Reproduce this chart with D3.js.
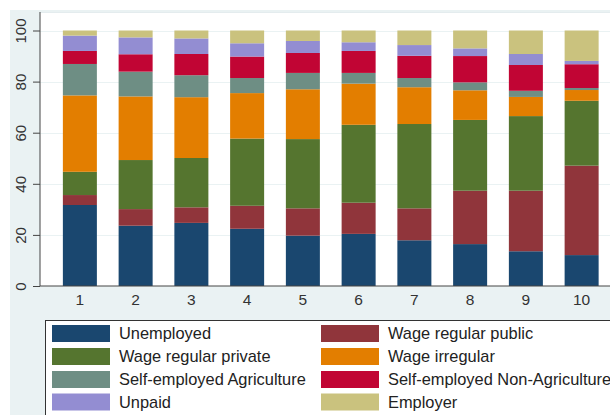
<!DOCTYPE html>
<html>
<head>
<meta charset="utf-8">
<script src="https://cdn.jsdelivr.net/npm/d3@7"></script>
<style>
  html, body { margin: 0; padding: 0; background: #ffffff; }
  svg { display: block; font-family: "Liberation Sans", Arial, sans-serif; }
</style>
</head>
<body>
<svg id="chart" width="610" height="415"></svg>
<script>
const categories = ["1","2","3","4","5","6","7","8","9","10"];
const seriesNames = ["Unemployed","Wage regular public","Wage regular private","Wage irregular",
  "Self-employed Agriculture","Self-employed Non-Agriculture","Unpaid","Employer"];
const unemployed        = [31.7, 23.6, 24.7, 22.4, 19.7, 20.4, 17.9, 16.4, 13.6, 12.1];
const wageRegularPublic = [ 3.9,  6.5,  6.1,  9.0, 10.7, 12.2, 12.5, 20.9, 23.7, 35.0];
const wageRegularPrivate= [ 9.1, 19.2, 19.3, 26.3, 27.1, 30.5, 33.0, 27.7, 29.2, 25.4];
const wageIrregular     = [29.9, 24.9, 23.8, 17.8, 19.5, 16.1, 14.4, 11.6,  7.5,  4.2];
const selfEmpAgri       = [12.3,  9.7,  8.6,  5.9,  6.4,  4.2,  3.6,  3.1,  2.4,  0.8];
const selfEmpNonAgri    = [ 5.1,  6.8,  8.3,  8.4,  7.8,  8.6,  8.7, 10.3, 10.1,  9.3];
const unpaid            = [ 6.0,  6.6,  6.1,  5.2,  4.7,  3.4,  4.2,  3.0,  4.3,  1.3];
const employer          = [ 2.0,  2.7,  3.1,  5.0,  4.1,  4.6,  5.7,  7.0,  9.2, 11.9];
const yTicks = [0, 20, 40, 60, 80, 100];
const colors = ["#1a476f","#90353b","#55752f","#e37e00","#6e8e84","#c10534","#938dd2","#cac27e"];

const seriesValues = [unemployed, wageRegularPublic, wageRegularPrivate, wageIrregular,
  selfEmpAgri, selfEmpNonAgri, unpaid, employer];

const rows = categories.map((c, i) => {
  const r = { cat: c };
  seriesNames.forEach((s, k) => { r[s] = seriesValues[k][i]; });
  return r;
});

const svg = d3.select("#chart");
const W = 610, H = 415;
const plot = { left: 40, top: 12, right: 610, bottom: 286 };

svg.append("rect").attr("x", 0).attr("y", 0).attr("width", W).attr("height", H).attr("fill", "#ffffff");
svg.append("rect").attr("x", 10).attr("y", 10).attr("width", W - 10).attr("height", H - 10).attr("fill", "#eaf2f3");
svg.append("rect").attr("x", plot.left).attr("y", plot.top)
  .attr("width", plot.right - plot.left).attr("height", plot.bottom - plot.top)
  .attr("fill", "#ffffff");
svg.append("line").attr("x1", plot.left).attr("x2", plot.right)
  .attr("y1", plot.top + 0.5).attr("y2", plot.top + 0.5)
  .attr("stroke", "#e4ecee").attr("stroke-width", 1);

const x = d3.scaleBand().domain(categories).range([52, 609.5]).paddingInner(0.39).paddingOuter(0.195);
const y = d3.scaleLinear().domain([0, 100]).range([286, 30.5]);

svg.append("g").selectAll("line").data(yTicks.filter(d => d > 0)).join("line")
  .attr("x1", plot.left).attr("x2", plot.right)
  .attr("y1", d => Math.round(y(d)) + 0.5).attr("y2", d => Math.round(y(d)) + 0.5)
  .attr("stroke", "#eaf2f3").attr("stroke-width", 1);

const stack = d3.stack().keys(seriesNames);
const layers = stack(rows);
svg.append("g").selectAll("g").data(layers).join("g")
  .attr("fill", (d, i) => colors[i])
  .selectAll("rect").data(d => d).join("rect")
  .attr("x", d => x(d.data.cat))
  .attr("width", x.bandwidth())
  .attr("y", d => y(d[1]))
  .attr("height", d => y(d[0]) - y(d[1]));

const yAxis = d3.axisLeft(y).tickValues(yTicks).tickSize(7).tickPadding(4).tickFormat(d3.format("d"));
const gy = svg.append("g").attr("transform", `translate(${plot.left},0)`).call(yAxis);
gy.select(".domain").attr("d", `M0,${plot.top}V${plot.bottom}`).attr("stroke", "#444");
gy.selectAll(".tick line").attr("stroke", "#444");
gy.selectAll(".tick text")
  .attr("font-size", 15).attr("fill", "#333")
  .attr("text-anchor", "middle")
  .attr("x", 0).attr("dy", 0)
  .attr("transform", "translate(-14,0) rotate(-90)");

const xAxis = d3.axisBottom(x).tickSize(0).tickPadding(8);
const gx = svg.append("g").attr("transform", `translate(0,${plot.bottom})`).call(xAxis);
gx.select(".domain").attr("d", `M${plot.left},0H${plot.right}`).attr("stroke", "#444");
gx.selectAll(".tick text").attr("font-size", 15.5).attr("fill", "#333");

const lg = svg.append("g");
lg.append("rect").attr("x", 45.5).attr("y", 320.5).attr("width", 600).attr("height", 120)
  .attr("fill", "#ffffff").attr("stroke", "#333").attr("stroke-width", 1);
const colX = [52, 321];
const rowY = [333.5, 356.5, 379.5, 402];
seriesNames.forEach((s, k) => {
  const cx = colX[k % 2], cy = rowY[Math.floor(k / 2)];
  lg.append("rect").attr("x", cx).attr("y", cy - 8.5).attr("width", 58).attr("height", 17)
    .attr("fill", colors[k]);
  lg.append("text").attr("x", cx + 67).attr("y", cy + 5.7)
    .attr("font-size", 16.4).attr("fill", "#222").text(s);
});
</script>
</body>
</html>
